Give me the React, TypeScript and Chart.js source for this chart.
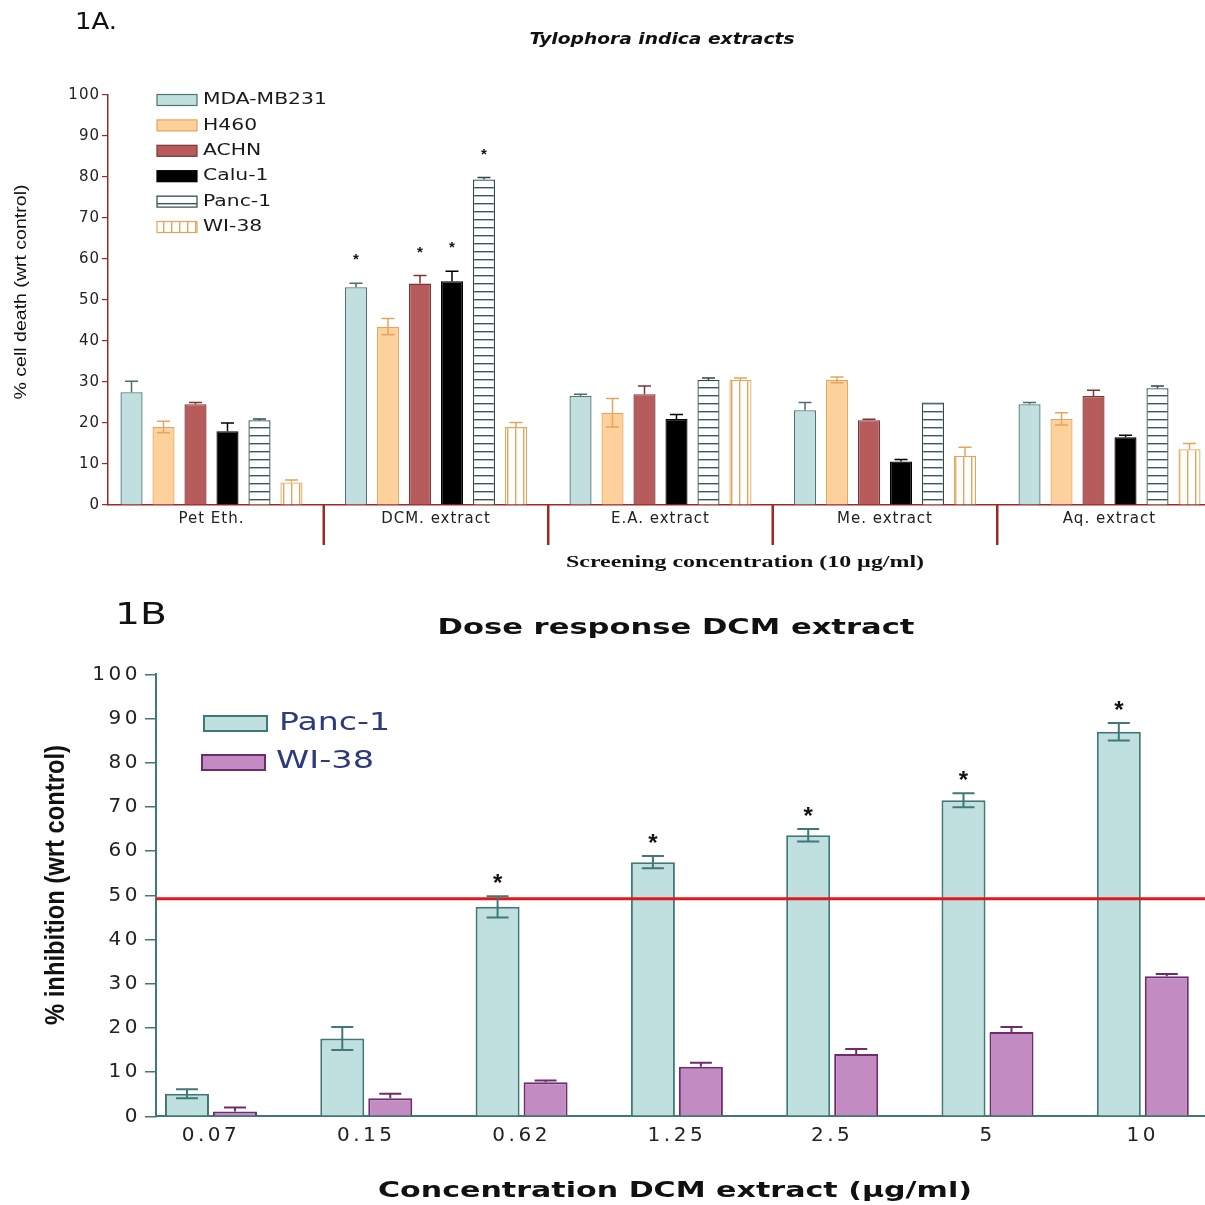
import React, { useEffect, useRef } from "react";
import { Chart, registerables } from "chart.js";

Chart.register(...registerables);

// ---------- Panel 1A data ----------
const TOP_GROUPS = ["Pet Eth.", "DCM. extract", "E.A. extract", "Me. extract", "Aq. extract"];
const TOP_SERIES_NAMES = ["MDA-MB231", "H460", "ACHN", "Calu-1", "Panc-1", "WI-38"];
const MDA_MB231 = [27.5, 53.1, 26.6, 23.1, 24.6];
const H460 = [19.0, 43.5, 22.5, 30.5, 21.0];
const ACHN = [24.6, 54.0, 27.0, 20.7, 26.6];
const CALU_1 = [18.0, 54.6, 21.0, 10.6, 16.5];
const PANC_1 = [20.7, 79.4, 30.5, 25.0, 28.5];
const WI_38 = [5.5, 19.0, 30.5, 12.0, 13.6];
const MDA_MB231_ERR = [2.7, 1.0, 0.4, 1.9, 0.4];
const H460_ERR = [1.4, 2.0, 3.5, 0.7, 1.5];
const ACHN_ERR = [0.4, 2.0, 2.0, 0.2, 1.4];
const CALU_1_ERR = [2.0, 2.4, 1.1, 0.5, 0.5];
const PANC_1_ERR = [0.3, 0.5, 0.5, 0, 0.5];
const WI_38_ERR = [0.6, 1.1, 0.5, 2.1, 1.4];
const MDA_MB231_STARS = [0, 1, 0, 0, 0];
const H460_STARS = [0, 0, 0, 0, 0];
const ACHN_STARS = [0, 1, 0, 0, 0];
const CALU_1_STARS = [0, 1, 0, 0, 0];
const PANC_1_STARS = [0, 1, 0, 0, 0];
const WI_38_STARS = [0, 0, 0, 0, 0];

// ---------- Panel 1B data ----------
const DOSE_LABELS = ["0.07", "0.15", "0.62", "1.25", "2.5", "5", "10"];
const DOSE_SERIES_NAMES = ["Panc-1", "WI-38"];
const PANC1_DOSE = [5.1, 17.6, 47.4, 57.5, 63.6, 71.5, 87.0];
const PANC1_DOSE_ERR = [1.0, 2.6, 2.4, 1.4, 1.4, 1.6, 2.0];
const WI38_DOSE = [1.1, 4.1, 7.7, 11.2, 14.1, 19.1, 31.7];
const WI38_DOSE_ERR = [0.9, 1.0, 0.4, 0.9, 1.1, 1.1, 0.5];
const PANC1_DOSE_STARS = [0, 0, 1, 1, 1, 1, 1];
const WI38_DOSE_STARS = [0, 0, 0, 0, 0, 0, 0];
const THRESHOLD = 49.2;

type Opts = { align?: "left" | "center" | "right"; width?: number; sx?: number; rotate?: boolean };

function drawText(ctx: any, text: string, x: number, y: number, font: string, color: string, opts: Opts = {}) {
  ctx.save();
  ctx.letterSpacing = "0px";
  ctx.font = font;
  ctx.fillStyle = color;
  ctx.textBaseline = "middle";
  ctx.textAlign = "left";
  const w = ctx.measureText(text).width;
  const sx = opts.width ? opts.width / w : opts.sx ?? 1;
  const tw = w * sx;
  ctx.translate(x, y);
  if (opts.rotate) ctx.rotate(-Math.PI / 2);
  const align = opts.align ?? "left";
  const startX = align === "center" ? -tw / 2 : align === "right" ? -tw : 0;
  ctx.translate(startX, 0);
  ctx.scale(sx, 1);
  ctx.fillText(text, 0, 0);
  ctx.restore();
}

function makePattern(dir: "h" | "v", color: string) {
  const c = document.createElement("canvas");
  c.width = 8;
  c.height = 8;
  const g = c.getContext("2d")!;
  g.fillStyle = "#ffffff";
  g.fillRect(0, 0, 8, 8);
  g.fillStyle = color;
  if (dir === "h") g.fillRect(0, 3, 8, 1.4);
  else g.fillRect(3, 0, 1.4, 8);
  return g.createPattern(c, "repeat")!;
}

function errorBarPlugin(
  errs: number[][],
  twoSided: boolean[],
  colors: string[],
  capW: number,
  lw: number,
  stars: number[][],
  starFont: string,
  starGap: number
) {
  return {
    id: "errbars",
    afterDatasetsDraw(chart: any) {
      const ctx = chart.ctx;
      const ys = chart.scales.y;
      chart.data.datasets.forEach((ds: any, d: number) => {
        const meta = chart.getDatasetMeta(d);
        meta.data.forEach((el: any, i: number) => {
          const v = ds.data[i].y;
          const e = errs[d][i];
          const x = el.x;
          const yTop = ys.getPixelForValue(v + e);
          const yVal = ys.getPixelForValue(v);
          const yLow = ys.getPixelForValue(v - e);
          if (e > 0) {
            ctx.save();
            ctx.strokeStyle = colors[d];
            ctx.lineWidth = lw;
            ctx.beginPath();
            ctx.moveTo(x, yTop);
            ctx.lineTo(x, twoSided[d] ? yLow : yVal);
            ctx.moveTo(x - capW / 2, yTop);
            ctx.lineTo(x + capW / 2, yTop);
            if (twoSided[d]) {
              ctx.moveTo(x - capW / 2, yLow);
              ctx.lineTo(x + capW / 2, yLow);
            }
            ctx.stroke();
            ctx.restore();
          }
          if (stars[d][i]) drawText(ctx, "*", x, yTop - starGap, starFont, "#111", { align: "center" });
        });
      });
    },
  };
}

function buildTop(canvas: HTMLCanvasElement) {
  const AXIS = "#9a2a2a";
  const hPattern = makePattern("h", "#3b5757");
  const vPattern = makePattern("v", "#e2a55c");
  const fills: any[] = ["#c1dfdf", "#fdd19c", "#b65c5c", "#000000", hPattern, vPattern];
  const borders = ["#4e7474", "#e4a65c", "#7e3434", "#000000", "#2e4a4a", "#e2a55c"];
  const errColors = ["#4e6c6c", "#e4a65c", "#7e3434", "#000000", "#2e4a4a", "#e2a55c"];
  const values = [MDA_MB231, H460, ACHN, CALU_1, PANC_1, WI_38];
  const errs = [MDA_MB231_ERR, H460_ERR, ACHN_ERR, CALU_1_ERR, PANC_1_ERR, WI_38_ERR];
  const stars = [MDA_MB231_STARS, H460_STARS, ACHN_STARS, CALU_1_STARS, PANC_1_STARS, WI_38_STARS];

  const decor = {
    id: "topDecor",
    beforeDraw(chart: any) {
      chart.ctx.letterSpacing = "1px";
    },
    afterDraw(chart: any) {
      const ctx = chart.ctx;
      const xs = chart.scales.x;
      const ca = chart.chartArea;
      // category separators
      ctx.save();
      ctx.strokeStyle = "#a02828";
      ctx.lineWidth = 2.5;
      for (let k = 0; k < TOP_GROUPS.length - 1; k++) {
        const px = xs.getPixelForValue(k + 0.5);
        ctx.beginPath();
        ctx.moveTo(px, ca.bottom);
        ctx.lineTo(px, ca.bottom + 40);
        ctx.stroke();
      }
      ctx.restore();
      // legend
      TOP_SERIES_NAMES.forEach((name, d) => {
        const cy = 100 + d * 25.4;
        ctx.save();
        ctx.fillStyle = fills[d];
        ctx.fillRect(157, cy - 5.5, 40, 11);
        ctx.strokeStyle = borders[d];
        ctx.lineWidth = 1.2;
        ctx.strokeRect(157, cy - 5.5, 40, 11);
        ctx.restore();
        drawText(ctx, name, 203, cy, '16px "DejaVu Sans"', "#1a1a1a", { sx: 1.27 });
      });
      // texts
      drawText(ctx, "1A.", 75, 23, '23px "DejaVu Sans"', "#111", { width: 42 });
      drawText(ctx, "Tylophora indica extracts", 662, 40, 'italic bold 15px "DejaVu Sans"', "#111", {
        align: "center",
        width: 265,
      });
      drawText(ctx, "Screening concentration (10 µg/ml)", 745, 563, 'bold 16px "Liberation Serif"', "#111", {
        align: "center",
        width: 358,
      });
      drawText(ctx, "% cell death (wrt control)", 22, 292, '16px "Liberation Sans"', "#111", {
        align: "center",
        width: 215,
        rotate: true,
      });
    },
  };

  return new Chart(canvas, {
    type: "bar",
    data: {
      datasets: TOP_SERIES_NAMES.map((name, d) => ({
        label: name,
        data: values[d].map((v, i) => ({ x: i, y: v })),
        backgroundColor: fills[d],
        borderColor: borders[d],
        borderWidth: 1.3,
        categoryPercentage: 0.855,
        barPercentage: 0.69,
      })),
    },
    options: {
      animation: false,
      responsive: false,
      devicePixelRatio: 1,
      layout: { padding: { top: 95, right: 8.25, left: 0, bottom: 0 } },
      plugins: { legend: { display: false }, tooltip: { enabled: false }, title: { display: false } },
      scales: {
        x: {
          type: "linear",
          min: -0.461,
          max: 4.5,
          offset: false,
          afterBuildTicks: (s: any) => {
            s.ticks = TOP_GROUPS.map((_, i) => ({ value: i }));
          },
          afterFit: (s: any) => {
            s.height = 80;
          },
          ticks: {
            callback: (v: any) => TOP_GROUPS[v as number] ?? "",
            font: { family: '"DejaVu Sans"', size: 15 },
            color: "#222",
            padding: 5,
            autoSkip: false,
            maxRotation: 0,
          },
          grid: { display: false, drawTicks: false, offset: false },
          border: { color: AXIS, width: 1.5 },
        },
        y: {
          min: 0,
          max: 100,
          afterFit: (s: any) => {
            s.width = 108;
          },
          ticks: { stepSize: 10, font: { family: '"DejaVu Sans"', size: 15 }, color: "#222", padding: 2 },
          grid: { drawOnChartArea: false, drawTicks: true, tickLength: 6, color: AXIS, lineWidth: 1.2 },
          border: { color: AXIS, width: 1.5 },
        },
      },
    },
    plugins: [
      decor,
      errorBarPlugin(
        errs,
        [false, true, false, false, false, false],
        errColors,
        13,
        1.5,
        stars,
        'bold 15px "Liberation Sans"',
        23
      ),
    ],
  } as any);
}

function buildBottom(canvas: HTMLCanvasElement) {
  const AXIS = "#3f7876";
  const fills = ["#c0dfdf", "#c28bc2"];
  const borders = ["#3f7876", "#6d2d6d"];
  const errColors = ["#3f7876", "#6d2d6d"];
  const values = [PANC1_DOSE, WI38_DOSE];
  const errs = [PANC1_DOSE_ERR, WI38_DOSE_ERR];
  const stars = [PANC1_DOSE_STARS, WI38_DOSE_STARS];
  const OFF = 585;

  const decor = {
    id: "botDecor",
    beforeDraw(chart: any) {
      chart.ctx.letterSpacing = "3.5px";
    },
    afterDatasetsDraw(chart: any) {
      const ctx = chart.ctx;
      const ys = chart.scales.y;
      const ca = chart.chartArea;
      const y = ys.getPixelForValue(THRESHOLD);
      ctx.save();
      ctx.strokeStyle = "#e3171c";
      ctx.lineWidth = 3;
      ctx.beginPath();
      ctx.moveTo(ca.left, y);
      ctx.lineTo(chart.width, y);
      ctx.stroke();
      ctx.restore();
    },
    afterDraw(chart: any) {
      const ctx = chart.ctx;
      // legend
      const boxes = [
        { x: 204, y: 716 - OFF, tx: 279, ty: 724 - OFF, w: 111 },
        { x: 202, y: 755 - OFF, tx: 276, ty: 762 - OFF, w: 98 },
      ];
      DOSE_SERIES_NAMES.forEach((name, d) => {
        const b = boxes[d];
        ctx.save();
        ctx.fillStyle = fills[d];
        ctx.fillRect(b.x, b.y, 63, 15);
        ctx.strokeStyle = borders[d];
        ctx.lineWidth = 2;
        ctx.strokeRect(b.x, b.y, 63, 15);
        ctx.restore();
        drawText(ctx, name, b.tx, b.ty, '24px "DejaVu Sans"', "#2e3a7e", { width: b.w });
      });
      drawText(ctx, "1B", 115, 616 - OFF, '30px "DejaVu Sans"', "#111", { width: 52 });
      drawText(ctx, "Dose response DCM extract", 676, 629 - OFF, 'bold 21px "DejaVu Sans"', "#111", {
        align: "center",
        width: 477,
      });
      drawText(ctx, "Concentration DCM extract (µg/ml)", 675, 1192 - OFF, 'bold 21px "DejaVu Sans"', "#111", {
        align: "center",
        width: 594,
      });
      drawText(ctx, "% inhibition (wrt control)", 56, 885 - OFF, 'bold 28px "Liberation Sans"', "#111", {
        align: "center",
        width: 280,
        rotate: true,
      });
    },
  };

  return new Chart(canvas, {
    type: "bar",
    data: {
      datasets: DOSE_SERIES_NAMES.map((name, d) => ({
        label: name,
        data: values[d].map((v, i) => ({ x: i, y: v })),
        backgroundColor: fills[d],
        borderColor: borders[d],
        borderWidth: 2,
        categoryPercentage: 0.618,
        barPercentage: 0.917,
      })),
    },
    options: {
      animation: false,
      responsive: false,
      devicePixelRatio: 1,
      layout: { padding: { top: 89.3, right: 9.55, left: 0, bottom: 0 } },
      plugins: { legend: { display: false }, tooltip: { enabled: false }, title: { display: false } },
      scales: {
        x: {
          type: "linear",
          min: -0.354,
          max: 6.5,
          offset: false,
          afterBuildTicks: (s: any) => {
            s.ticks = DOSE_LABELS.map((_, i) => ({ value: i }));
          },
          afterFit: (s: any) => {
            s.height = 88.7;
          },
          ticks: {
            callback: (v: any) => DOSE_LABELS[v as number] ?? "",
            font: { family: '"DejaVu Sans"', size: 20 },
            color: "#222",
            padding: 7,
            autoSkip: false,
            maxRotation: 0,
          },
          grid: { display: false, drawTicks: false, offset: false },
          border: { color: AXIS, width: 2 },
        },
        y: {
          min: 0,
          max: 100,
          afterFit: (s: any) => {
            s.width = 156;
          },
          ticks: { stepSize: 10, font: { family: '"DejaVu Sans"', size: 20 }, color: "#222", padding: 4 },
          grid: { drawOnChartArea: false, drawTicks: true, tickLength: 11, color: AXIS, lineWidth: 1.5 },
          border: { color: AXIS, width: 2 },
        },
      },
    },
    plugins: [
      decor,
      errorBarPlugin(errs, [true, false], errColors, 22, 2, stars, 'bold 24px "Liberation Sans"', 12),
    ],
  } as any);
}

export default function App() {
  const topRef = useRef<HTMLCanvasElement>(null);
  const botRef = useRef<HTMLCanvasElement>(null);
  useEffect(() => {
    const charts = [buildTop(topRef.current!), buildBottom(botRef.current!)];
    return () => charts.forEach((c) => c.destroy());
  }, []);
  return (
    <div
      style={{
        position: "absolute",
        left: 0,
        top: 0,
        width: 1205,
        height: 1205,
        overflow: "hidden",
        background: "#ffffff",
      }}
    >
      <canvas
        ref={topRef}
        width={1230}
        height={585}
        style={{ position: "absolute", left: 0, top: 0, width: 1230, height: 585 }}
      />
      <canvas
        ref={botRef}
        width={1230}
        height={620}
        style={{ position: "absolute", left: 0, top: 585, width: 1230, height: 620 }}
      />
    </div>
  );
}
